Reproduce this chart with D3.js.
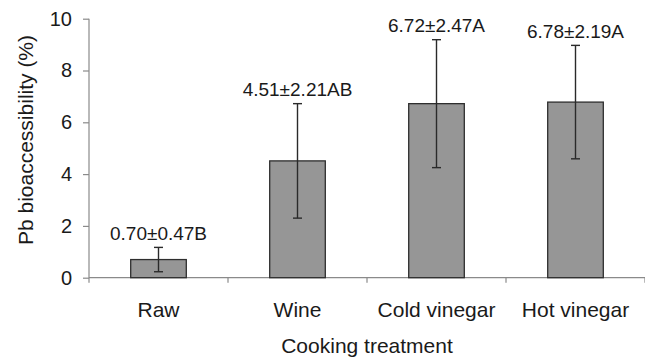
<!DOCTYPE html>
<html>
<head>
<meta charset="utf-8">
<script src="https://cdn.jsdelivr.net/npm/d3@7"></script>
<style>
  html, body { margin: 0; padding: 0; background: #fff; }
  svg { display: block; font-family: "Liberation Sans", Arial, sans-serif; }
</style>
</head>
<body>
<svg id="chart" width="645" height="358"></svg>
<script>
// Pb bioaccessibility by cooking treatment (mean ± SD, letters = significance groups)
const categories = ["Raw", "Wine", "Cold vinegar", "Hot vinegar"];
const means = [0.70, 4.51, 6.72, 6.78];
const sds = [0.47, 2.21, 2.47, 2.19];
const groups = ["B", "AB", "A", "A"];
const yTicks = [0, 2, 4, 6, 8, 10];

const svg = d3.select("#chart");
const plotLeft = 89, plotRight = 645, plotTop = 18.7, plotBottom = 277.7;

const x = d3.scaleBand()
  .domain(categories)
  .range([plotLeft, plotRight])
  .paddingInner(0.6)
  .paddingOuter(0.3);
const step = x.step();

const y = d3.scaleLinear().domain([0, 10]).range([plotBottom, plotTop]);

const axisColor = "#8a8a8a";
const textColor = "#1a1a1a";

// Y axis
const yAxis = svg.append("g")
  .attr("transform", `translate(${plotLeft},0)`)
  .call(d3.axisLeft(y).tickValues(yTicks).tickFormat(d3.format("d")).tickSize(6).tickPadding(11));
yAxis.select(".domain").remove();
yAxis.selectAll(".tick line").attr("stroke", axisColor).attr("stroke-width", 1.2);
yAxis.selectAll(".tick text")
  .attr("fill", textColor)
  .style("font-family", "'Liberation Sans', Arial, sans-serif")
  .style("font-size", "20px");
yAxis.append("line")
  .attr("x1", 0).attr("x2", 0)
  .attr("y1", y(10)).attr("y2", plotBottom + 5)
  .attr("stroke", axisColor).attr("stroke-width", 1.2);

// X axis baseline and category separators
svg.append("line")
  .attr("x1", plotLeft).attr("x2", plotRight)
  .attr("y1", plotBottom).attr("y2", plotBottom)
  .attr("stroke", axisColor).attr("stroke-width", 1.2);

const bounds = categories.map(c => x(c) + x.bandwidth() / 2 + step / 2);
svg.append("g").selectAll("line")
  .data(bounds)
  .join("line")
  .attr("x1", d => d).attr("x2", d => d)
  .attr("y1", plotBottom).attr("y2", plotBottom + 5)
  .attr("stroke", axisColor).attr("stroke-width", 1.2);

// Category labels
svg.append("g").selectAll("text")
  .data(categories)
  .join("text")
  .attr("x", d => x(d) + x.bandwidth() / 2)
  .attr("y", 317)
  .attr("text-anchor", "middle")
  .attr("fill", textColor)
  .style("font-size", "21px")
  .text(d => d);

// Bars
const rows = categories.map((c, i) => ({ c, m: means[i], s: sds[i], g: groups[i] }));

svg.append("g").selectAll("rect")
  .data(rows)
  .join("rect")
  .attr("x", d => x(d.c))
  .attr("y", d => y(d.m))
  .attr("width", x.bandwidth())
  .attr("height", d => plotBottom - y(d.m))
  .attr("fill", "#969696")
  .attr("stroke", "#2e2e2e")
  .attr("stroke-width", 1.3);

// Error bars
const eb = svg.append("g").attr("stroke", "#2a2a2a").attr("stroke-width", 1.4);
rows.forEach(d => {
  const cx = x(d.c) + x.bandwidth() / 2;
  eb.append("line").attr("x1", cx).attr("x2", cx).attr("y1", y(d.m - d.s)).attr("y2", y(d.m + d.s));
  eb.append("line").attr("x1", cx - 4.5).attr("x2", cx + 4.5).attr("y1", y(d.m - d.s)).attr("y2", y(d.m - d.s));
  eb.append("line").attr("x1", cx - 4.5).attr("x2", cx + 4.5).attr("y1", y(d.m + d.s)).attr("y2", y(d.m + d.s));
});

// Value labels above the error bars
svg.append("g").selectAll("text")
  .data(rows)
  .join("text")
  .attr("x", d => x(d.c) + x.bandwidth() / 2)
  .attr("y", d => y(d.m + d.s) - 7.5)
  .attr("text-anchor", "middle")
  .attr("fill", textColor)
  .style("font-size", "19px")
  .text(d => `${d.m.toFixed(2)}±${d.s.toFixed(2)}${d.g}`);

// Axis titles
svg.append("text")
  .attr("transform", `translate(33,140) rotate(-90)`)
  .attr("text-anchor", "middle")
  .attr("fill", textColor)
  .style("font-size", "21px")
  .text("Pb bioaccessibility (%)");

svg.append("text")
  .attr("x", (plotLeft + plotRight) / 2)
  .attr("y", 353)
  .attr("text-anchor", "middle")
  .attr("fill", textColor)
  .style("font-size", "21px")
  .text("Cooking treatment");
</script>
</body>
</html>
